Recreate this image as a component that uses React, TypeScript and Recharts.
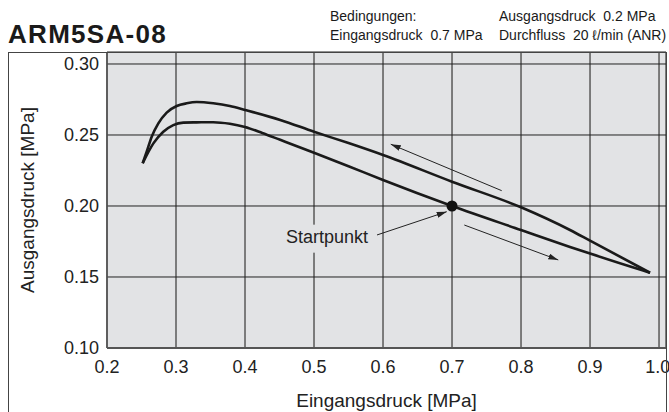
import { ComposedChart, Line, Scatter, XAxis, YAxis, CartesianGrid } from "recharts";

const FONT = '"Liberation Sans", Arial, Helvetica, sans-serif';
const PLOT_BG = "#e2e3e5";

const xTicks = [0.2, 0.3, 0.4, 0.5, 0.6, 0.7, 0.8, 0.9, 1.0];
const yTicks = [0.1, 0.15, 0.2, 0.25, 0.3];

// obere Kurve (Eingangsdruck fallend)
const upperIn = [0.2517, 0.2575, 0.2648, 0.2744, 0.2865, 0.301, 0.3155, 0.33, 0.354, 0.378, 0.4, 0.451, 0.5, 0.55, 0.6, 0.7, 0.8, 0.871, 0.9, 0.987];
const upperOut = [0.2301, 0.2382, 0.2488, 0.2582, 0.2658, 0.2704, 0.2723, 0.2732, 0.2723, 0.2704, 0.2676, 0.2606, 0.2523, 0.2443, 0.2359, 0.2171, 0.1991, 0.1831, 0.1756, 0.153];

// untere Kurve (Eingangsdruck steigend)
const lowerIn = [0.2517, 0.2672, 0.2816, 0.2961, 0.3106, 0.33, 0.354, 0.378, 0.4, 0.425, 0.451, 0.5, 0.55, 0.6, 0.7, 0.8, 0.871, 0.9, 0.977, 0.987];
const lowerOut = [0.2301, 0.2441, 0.2523, 0.257, 0.2587, 0.2589, 0.259, 0.2579, 0.2556, 0.2514, 0.2466, 0.2375, 0.228, 0.2183, 0.2, 0.1831, 0.1712, 0.1665, 0.1545, 0.153];

// Startpunkt und Beschriftung
const startPoint = [{ x: 0.7, y: 0.2 }];
const startLabel = [{ x: 0.5188, y: 0.1784, text: "Startpunkt" }];
const startArrow = [{ x: 0.5913, y: 0.1796 }, { x: 0.6923, y: 0.196 }];

// Richtungspfeile
const arrowBack = [{ x: 0.772, y: 0.2108 }, { x: 0.6112, y: 0.2435 }];
const arrowForward = [{ x: 0.7178, y: 0.1866 }, { x: 0.854, y: 0.162 }];

const zip = (xs: number[], ys: number[]) => xs.map((x, i) => ({ x, y: ys[i] }));
const upperData = zip(upperIn, upperOut);
const lowerData = zip(lowerIn, lowerOut);

const StartDot = (props: any) => <circle cx={props.cx} cy={props.cy} r={5.5} fill="#111" />;

const LabelBox = (props: any) => {
  const { cx, cy, payload } = props;
  return (
    <g>
      <rect x={cx - 47} y={cy - 12} width={94} height={28} fill={PLOT_BG} />
      <text x={cx} y={cy + 6.5} textAnchor="middle" fontSize={18} fill="#222" fontFamily={FONT}>
        {payload.text}
      </text>
    </g>
  );
};

const App = () => {
  return (
    <div style={{ position: "absolute", left: 0, top: 0, width: 669, height: 412, background: "#fff", fontFamily: FONT, color: "#1a1a1a", overflow: "hidden" }}>
      <div style={{ position: "absolute", left: 8, top: 21, fontSize: 26, lineHeight: "26px", fontWeight: "bold", letterSpacing: 1.3 }}>
        ARM5SA-08
      </div>
      <div style={{ position: "absolute", left: 330, top: 7, fontSize: 14, lineHeight: "19px", whiteSpace: "pre" }}>
        {"Bedingungen:\nEingangsdruck  0.7 MPa"}
      </div>
      <div style={{ position: "absolute", left: 499, top: 7, fontSize: 14, lineHeight: "19px", whiteSpace: "pre" }}>
        {"Ausgangsdruck  0.2 MPa\nDurchfluss  20 ℓ/min (ANR)"}
      </div>

      <ComposedChart width={669} height={412} margin={{ top: 52, right: 3, left: 0, bottom: 0 }}>
        <defs>
          <marker id="arrowHead" viewBox="0 0 10 6" refX="10" refY="3" markerWidth="10" markerHeight="6" orient="auto" markerUnits="userSpaceOnUse">
            <path d="M0,0 L10,3 L0,6 z" fill="#222" />
          </marker>
        </defs>
        <CartesianGrid horizontal={false} stroke="#707070" strokeWidth={1.8} fill={PLOT_BG} fillOpacity={1} />
        <CartesianGrid vertical={false} stroke="#222" strokeWidth={1} />
        <XAxis
          type="number"
          dataKey="x"
          domain={[0.2, 1.0101]}
          ticks={xTicks}
          allowDataOverflow
          height={64}
          axisLine={{ stroke: "#555", strokeWidth: 2 }}
          tickLine={false}
          tickSize={0}
          tickMargin={12}
          tick={{ fill: "#222", fontSize: 18, fontFamily: FONT }}
          tickFormatter={(v: number) => v.toFixed(1)}
          label={{ value: "Eingangsdruck [MPa]", position: "insideBottom", offset: 5, fill: "#222", fontSize: 19, fontFamily: FONT }}
        />
        <YAxis
          type="number"
          dataKey="y"
          domain={[0.1, 0.30845]}
          ticks={yTicks}
          allowDataOverflow
          width={107}
          axisLine={{ stroke: "#555", strokeWidth: 1.5 }}
          tickLine={false}
          tickSize={0}
          tickMargin={8}
          tick={{ fill: "#222", fontSize: 18, fontFamily: FONT }}
          tickFormatter={(v: number) => v.toFixed(2)}
        />
        <Line data={upperData} dataKey="y" type="monotone" stroke="#1a1a1a" strokeWidth={2.6} dot={false} activeDot={false} isAnimationActive={false} />
        <Line data={lowerData} dataKey="y" type="monotone" stroke="#1a1a1a" strokeWidth={2.6} dot={false} activeDot={false} isAnimationActive={false} />
        <Line data={arrowBack} dataKey="y" type="linear" stroke="#222" strokeWidth={1} dot={false} activeDot={false} markerEnd="url(#arrowHead)" isAnimationActive={false} />
        <Line data={arrowForward} dataKey="y" type="linear" stroke="#222" strokeWidth={1} dot={false} activeDot={false} markerEnd="url(#arrowHead)" isAnimationActive={false} />
        <Scatter data={startLabel} dataKey="y" shape={LabelBox} isAnimationActive={false} />
        <Line data={startArrow} dataKey="y" type="linear" stroke="#222" strokeWidth={1} dot={false} activeDot={false} markerEnd="url(#arrowHead)" isAnimationActive={false} />
        <Scatter data={startPoint} dataKey="y" shape={StartDot} isAnimationActive={false} />
      </ComposedChart>

      <div style={{ position: "absolute", left: 28, top: 200, transform: "translate(-50%, -50%) rotate(-90deg)", fontSize: 19, whiteSpace: "nowrap", color: "#222" }}>
        Ausgangsdruck [MPa]
      </div>
      <div style={{ position: "absolute", left: 8, top: 52, width: 659, height: 380, boxSizing: "border-box", border: "1px solid #444", borderBottom: "none", pointerEvents: "none" }} />
    </div>
  );
};

export default App;
